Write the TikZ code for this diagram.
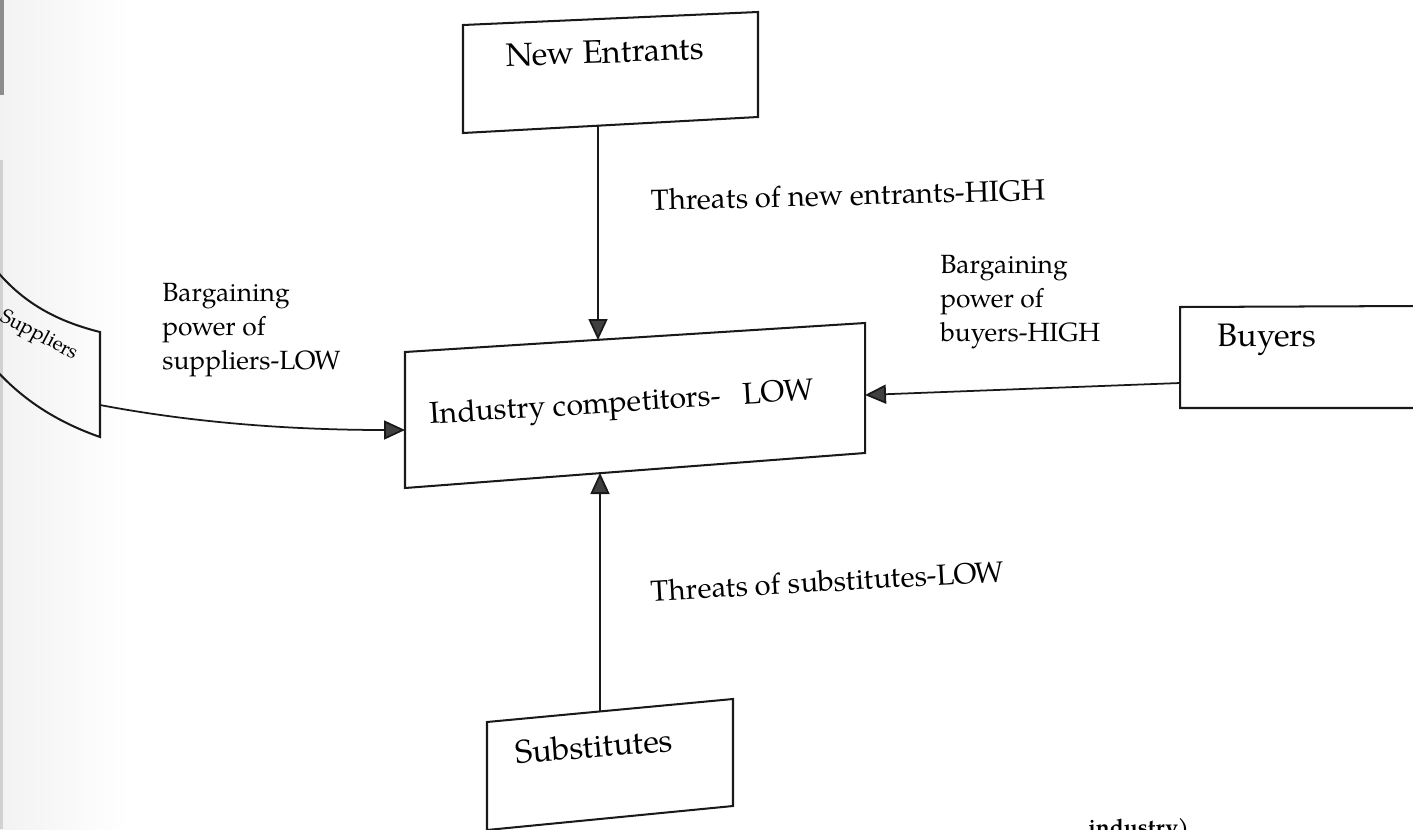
\documentclass[tikz,border=0pt]{standalone}
\usepackage{fontspec}
\setmainfont{TeX Gyre Pagella}
\usetikzlibrary{arrows.meta}
\begin{document}
\begin{tikzpicture}[x=0.02cm,y=0.02cm,
  box/.style={draw=black!90, line width=1.15pt, line join=miter},
  boxtext/.style={font=\fontsize{18.5}{22}\selectfont, inner sep=0pt},
  note/.style={font=\fontsize{15}{19.3}\selectfont, inner sep=0pt, align=left},
  threat/.style={font=\fontsize{16.6}{20}\selectfont, inner sep=0pt},
  force/.style={draw=black!90, line width=1pt,
    -{Triangle[length=0.42cm,width=0.38cm,fill=black!75]}}]
\useasboundingbox (0,0) rectangle (1413,-829);
\clip (0,0) rectangle (1413,-829);

% greyish page margin on the left
\shade[left color=black!5, right color=white] (0,0) rectangle (130,-829);
\fill[black!45] (0,0) rectangle (4,-95);
\fill[black!18] (0,-160) rectangle (3,-829);

% New Entrants
\draw[box] (463,-25) -- (758,-12) -- (758,-117) -- (463,-133) -- cycle;
\node[boxtext, rotate=2] (newent) at (605,-52) {New Entrants};
\coordinate (newent-s) at (598,-126);

% Industry competitors
\draw[box] (405,-352) -- (865,-323) -- (865,-453) -- (405,-488) -- cycle;
\node[boxtext, font=\fontsize{17.2}{20}\selectfont, rotate=3.6] (ind) at (622,-405) {Industry competitors-\ \ \ LOW};
\coordinate (ind-n) at (598,-340);
\coordinate (ind-s) at (600,-473);
\coordinate (ind-w) at (405,-430);
\coordinate (ind-e) at (865,-395);

% Substitutes
\draw[box] (487,-722) -- (733,-699) -- (733,-806) -- (487,-830) -- cycle;
\node[boxtext, rotate=4.5] (subs) at (594,-746) {Substitutes};
\coordinate (subs-n) at (600,-711);

% Buyers (runs off the right edge)
\draw[box] (1420,-306) -- (1180,-307) -- (1180,-408) -- (1420,-408);
\node[boxtext] (buyers) at (1267,-340) {Buyers};
\coordinate (buy-w) at (1180,-383);

% Suppliers (curved box, runs off the left edge)
\draw[box] (-4,-270) .. controls (25,-305) and (60,-322) .. (100,-332)
  -- (100,-437) .. controls (60,-423) and (25,-402) .. (-4,-370);
\node[font=\fontsize{11.5}{14}\selectfont, inner sep=0pt, rotate=-28] (supp) at (39,-336) {Suppliers};
\coordinate (sup-e) at (100,-405);

% forces
\draw[force] (newent-s) -- (ind-n);
\draw[force] (subs-n) -- (ind-s);
\draw[force] (buy-w) -- (ind-e);
\draw[force] (sup-e) .. controls (200,-424) and (300,-430) .. (ind-w);

% labels
\node[threat, anchor=west, rotate=1.5] (thrnew) at (651,-200) {Threats of new entrants-HIGH};
\node[threat, anchor=west, rotate=3.2] (thrsub) at (651,-591) {Threats of substitutes-LOW};
\node[note, anchor=north west] (bpbuy) at (940,-255) {Bargaining\\power of\\buyers-HIGH};
\node[note, anchor=north west] (bpsup) at (162,-283) {Bargaining\\power of\\suppliers-LOW};

% caption line below the figure
\node[font=\bfseries\fontsize{13}{15}\selectfont, anchor=north west, inner sep=0pt] (capt) at (1088,-818.5) {industry)};
\end{tikzpicture}
\end{document}
